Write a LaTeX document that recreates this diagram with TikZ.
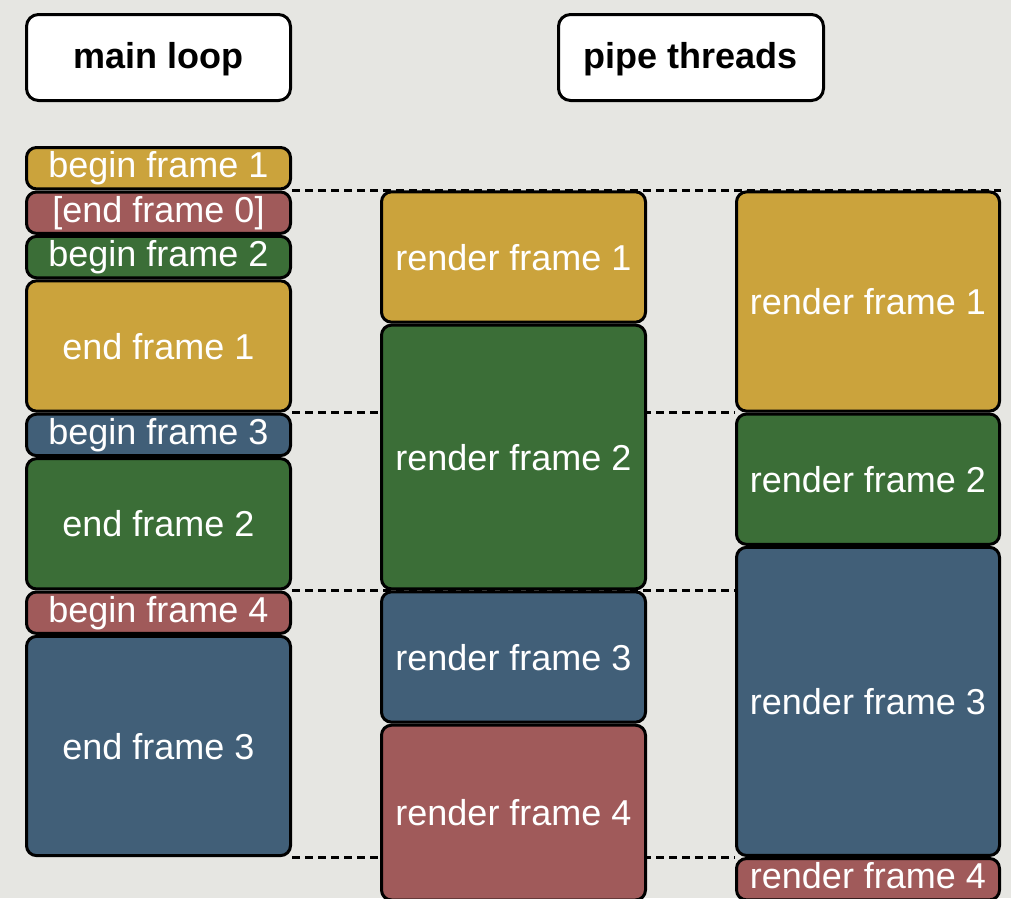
\documentclass[tikz,border=0pt]{standalone}
\usepackage{fontspec}
\setmainfont{Liberation Sans}
\pgfdeclarelayer{paperlayer}
\pgfdeclarelayer{bg}
\pgfsetlayers{paperlayer,bg,main}

\definecolor{paper}{HTML}{E6E6E2}
\definecolor{fgold}{HTML}{CBA33C}
\definecolor{fred}{HTML}{A05A5A}
\definecolor{fgreen}{HTML}{3B6E37}
\definecolor{fblue}{HTML}{415F78}

\begin{document}
\begin{tikzpicture}[x=1pt,y=-1pt,
  slot/.style={draw=black, line width=3pt, rounded corners=10pt,
    text=white, font=\fontsize{36}{40}\selectfont, inner sep=0pt,
    text height=26pt, text depth=0pt},
  leftcol/.style={slot, minimum width=264pt},
  midcol/.style={slot, minimum width=264pt},
  rightcol/.style={slot, minimum width=263pt},
  short/.style={text depth=7pt, minimum height=41.4pt},
  u3/.style={minimum height=130.3pt},
  u4/.style={minimum height=174.8pt},
  u5/.style={minimum height=219.2pt},
  u6/.style={minimum height=263.7pt},
  u7/.style={minimum height=308.1pt},
  head/.style={draw=black, line width=3pt, rounded corners=12pt, fill=white,
    inner sep=0pt, minimum height=86pt, text=black,
    font=\fontsize{36}{40}\selectfont\bfseries, text height=26pt, text depth=4pt},
  tick/.style={line width=3pt, dash pattern=on 8pt off 5pt}]

\begin{pgfonlayer}{paperlayer}
  \fill[paper] (0,0) rectangle (1011,898);
\end{pgfonlayer}
\useasboundingbox (0,0) rectangle (1011,898);
\clip (0,0) rectangle (1011,898);

% column headings
\node[head, minimum width=264pt] (mainloop) at (158.5,57.5) {main loop};
\node[head, minimum width=265pt] (pipes) at (691,57.5) {pipe threads};

% main loop column
\node[leftcol, short, fill=fgold]  (bf1) at (158.5,168.2) {begin frame 1};
\node[leftcol, short, fill=fred]   (ef0) at (158.5,212.7) {[end frame 0]};
\node[leftcol, short, fill=fgreen] (bf2) at (158.5,257.1) {begin frame 2};
\node[leftcol, u3, fill=fgold]     (ef1) at (158.5,346.0) {end frame 1};
\node[leftcol, short, fill=fblue]  (bf3) at (158.5,434.9) {begin frame 3};
\node[leftcol, u3, fill=fgreen]    (ef2) at (158.5,523.8) {end frame 2};
\node[leftcol, short, fill=fred]   (bf4) at (158.5,612.7) {begin frame 4};
\node[leftcol, u5, fill=fblue]     (ef3) at (158.5,746.0) {end frame 3};

% first pipe thread
\node[midcol, u3, fill=fgold]  (m1) at (513.5,257.0) {render frame 1};
\node[midcol, u6, fill=fgreen] (m2) at (513.5,457.0) {render frame 2};
\node[midcol, u3, fill=fblue]  (m3) at (513.5,657.0) {render frame 3};
\node[midcol, u4, fill=fred]   (m4) at (513.5,812.6) {render frame 4};

% second pipe thread
\node[rightcol, u5, fill=fgold]    (r1) at (868,301.5) {render frame 1};
\node[rightcol, u3, fill=fgreen]   (r2) at (868,479.2) {render frame 2};
\node[rightcol, u7, fill=fblue]    (r3) at (868,701.4) {render frame 3};
\node[rightcol, short, fill=fred]  (r4) at (868,879.2) {render frame 4};

% frame boundaries, behind the boxes
\begin{pgfonlayer}{bg}
  \draw[tick] (bf1.south east) -- (bf1.south east -| r1.east);
  \draw[tick] (ef1.south east) -- (ef1.south east -| r2.west);
  \draw[tick] (ef2.south east) -- (ef2.south east -| r3.west);
  \draw[tick] (ef3.south east) -- (ef3.south east -| r4.west);
\end{pgfonlayer}
\end{tikzpicture}
\end{document}
